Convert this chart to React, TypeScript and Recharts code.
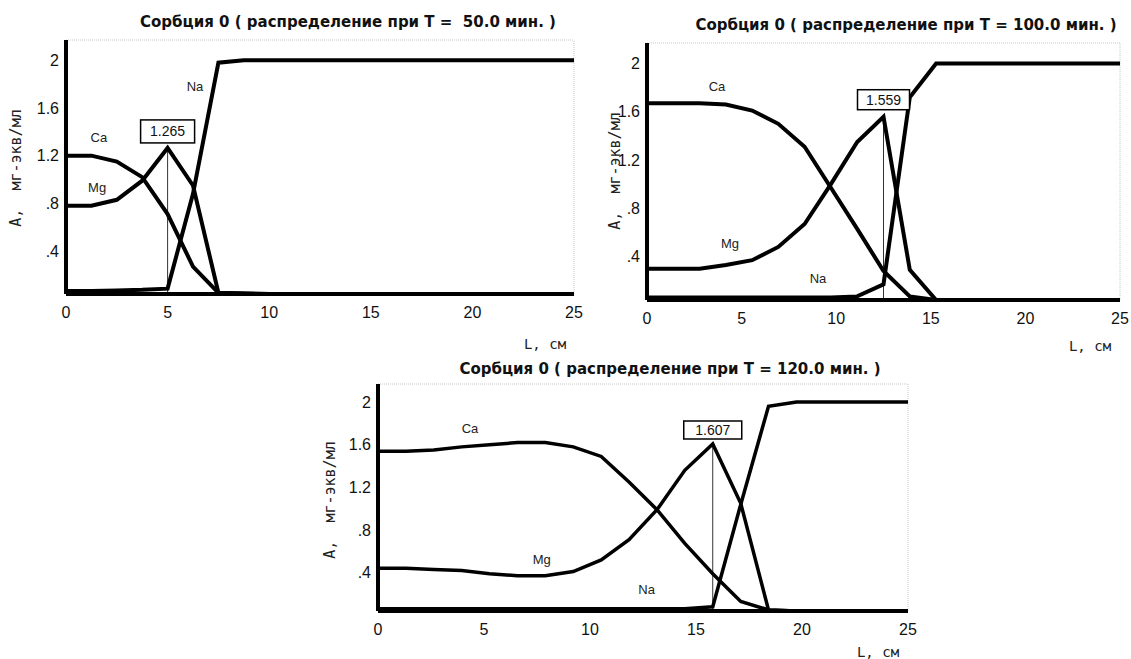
import React from "react";
import { LineChart, Line, XAxis, YAxis, ReferenceLine, ReferenceDot } from "recharts";

// T = 50 мин
const L50 = [0, 1.25, 2.5, 3.75, 5, 6.25, 7.5, 8.75, 10, 11.25, 12.5, 13.75, 15, 16.25, 17.5, 18.75, 20, 21.25, 22.5, 23.75, 25];
const Ca50 = [1.2, 1.2, 1.15, 1.02, 0.71, 0.27, 0.05, 0.045, 0.04, 0.04, 0.04, 0.04, 0.04, 0.04, 0.04, 0.04, 0.04, 0.04, 0.04, 0.04, 0.04];
const Mg50 = [0.78, 0.78, 0.83, 0.99, 1.265, 0.95, 0.05, 0.045, 0.04, 0.04, 0.04, 0.04, 0.04, 0.04, 0.04, 0.04, 0.04, 0.04, 0.04, 0.04, 0.04];
const Na50 = [0.065, 0.065, 0.07, 0.075, 0.085, 0.88, 1.98, 2, 2, 2, 2, 2, 2, 2, 2, 2, 2, 2, 2, 2, 2];

// T = 100 мин
const L100 = [0, 1.39, 2.78, 4.17, 5.56, 6.94, 8.33, 9.72, 11.11, 12.5, 13.89, 15.28, 16.67, 18.06, 19.44, 20.83, 22.22, 23.61, 25];
const Ca100 = [1.67, 1.67, 1.67, 1.66, 1.61, 1.5, 1.31, 0.97, 0.63, 0.28, 0.07, 0.04, 0.04, 0.04, 0.04, 0.04, 0.04, 0.04, 0.04];
const Mg100 = [0.3, 0.3, 0.3, 0.33, 0.37, 0.48, 0.67, 1.0, 1.35, 1.559, 0.29, 0.04, 0.04, 0.04, 0.04, 0.04, 0.04, 0.04, 0.04];
const Na100 = [0.06, 0.06, 0.06, 0.06, 0.06, 0.06, 0.06, 0.06, 0.07, 0.17, 1.72, 2, 2, 2, 2, 2, 2, 2, 2];

// T = 120 мин
const L120 = [0, 1.32, 2.63, 3.95, 5.26, 6.58, 7.89, 9.21, 10.53, 11.84, 13.16, 14.47, 15.79, 17.11, 18.42, 19.74, 21.05, 22.37, 23.68, 25];
const Ca120 = [1.54, 1.54, 1.55, 1.58, 1.6, 1.62, 1.62, 1.58, 1.49, 1.25, 0.99, 0.675, 0.39, 0.13, 0.05, 0.04, 0.04, 0.04, 0.04, 0.04];
const Mg120 = [0.44, 0.44, 0.43, 0.42, 0.39, 0.37, 0.37, 0.41, 0.52, 0.71, 0.99, 1.36, 1.607, 1.05, 0.05, 0.04, 0.04, 0.04, 0.04, 0.04];
const Na120 = [0.06, 0.06, 0.06, 0.06, 0.06, 0.06, 0.06, 0.06, 0.06, 0.06, 0.06, 0.06, 0.08, 1.04, 1.96, 2, 2, 2, 2, 2];

const lTicks = [0, 5, 10, 15, 20, 25];
const aTicks = [0.4, 0.8, 1.2, 1.6, 2];
const aDomain = [0.04, 2.17];

// peak of Mg: [L, A]
const peak50 = [5, 1.265];
const peak100 = [12.5, 1.559];
const peak120 = [15.79, 1.607];

// ion label anchors: [L, A] for Ca, Mg, Na
const tags = ["Ca", "Mg", "Na"];
const tags50 = [[1.62, 1.35], [1.53, 0.93], [6.35, 1.785]];
const tags100 = [[3.7, 1.81], [4.39, 0.51], [9.04, 0.22]];
const tags120 = [[4.34, 1.75], [7.72, 0.525], [12.67, 0.24]];

const titles = [
  "Сорбция 0 ( распределение при Т =  50.0 мин. )",
  "Сорбция 0 ( распределение при Т = 100.0 мин. )",
  "Сорбция 0 ( распределение при Т = 120.0 мин. )",
];

type Row = { L: number; Ca: number; Mg: number; Na: number };
const rows = (L: number[], Ca: number[], Mg: number[], Na: number[]): Row[] =>
  L.map((l, i) => ({ L: l, Ca: Ca[i], Mg: Mg[i], Na: Na[i] }));

const fmtA = (v: number) => (v < 1 ? String(v).replace(/^0/, "") : String(v));

const SANS = "'Liberation Sans', Arial, sans-serif";
const NARROW = "'Liberation Sans Narrow', 'Liberation Sans', Arial, sans-serif";
const MONO = "'DejaVu Sans Mono', monospace";

const peakBox = (value: number, w: number, h: number, gap: number) => (props: any) => {
  const vb = props.viewBox || {};
  const cx = vb.x + (vb.width || 0) / 2;
  const cy = vb.y + (vb.height || 0) / 2;
  return (
    <g>
      <rect x={cx - w / 2} y={cy - gap - h} width={w} height={h} fill="#fff" stroke="#000" strokeWidth={1.5} />
      <text x={cx} y={cy - gap - h / 2} textAnchor="middle" dominantBaseline="central" fontSize={14} fontFamily={SANS} fill="#111">
        {value.toFixed(3)}
      </text>
    </g>
  );
};

function Panel(props: {
  data: Row[];
  peak: number[];
  tagPos: number[][];
  width: number;
  height: number;
  margin: { top: number; right: number; bottom: number; left: number };
  stroke: number;
  box: [number, number, number];
}) {
  const { data, peak, tagPos, width, height, margin, stroke, box } = props;
  return (
    <LineChart width={width} height={height} data={data} margin={margin}>
      <XAxis
        type="number"
        dataKey="L"
        domain={[0, 25]}
        ticks={lTicks}
        allowDataOverflow
        height={30}
        tickLine={false}
        tickMargin={7}
        axisLine={{ stroke: "#000", strokeWidth: 4 }}
        tick={{ fill: "#111", fontSize: 16, fontFamily: SANS }}
      />
      <YAxis
        type="number"
        domain={aDomain}
        ticks={aTicks}
        allowDataOverflow
        width={50}
        tickLine={false}
        tickMargin={1}
        tickFormatter={fmtA}
        axisLine={{ stroke: "#000", strokeWidth: 4 }}
        tick={{ fill: "#111", fontSize: 16, fontFamily: SANS }}
      />
      <ReferenceLine y={aDomain[1]} stroke="#c8c8c8" strokeDasharray="1 1" />
      <ReferenceLine x={25} stroke="#c8c8c8" strokeDasharray="1 1" />
      <ReferenceLine
        segment={[{ x: peak[0], y: aDomain[0] }, { x: peak[0], y: peak[1] }]}
        stroke="#333"
        strokeWidth={1}
      />
      <Line type="linear" dataKey="Ca" stroke="#000" strokeWidth={stroke} dot={false} isAnimationActive={false} />
      <Line type="linear" dataKey="Mg" stroke="#000" strokeWidth={stroke} dot={false} isAnimationActive={false} />
      <Line type="linear" dataKey="Na" stroke="#000" strokeWidth={stroke} dot={false} isAnimationActive={false} />
      {tagPos.map((p, i) => (
        <ReferenceDot
          key={tags[i]}
          x={p[0]}
          y={p[1]}
          r={1}
          fill="none"
          stroke="none"
          label={{ value: tags[i], position: "center", fontSize: 13, fill: "#222", fontFamily: NARROW }}
        />
      ))}
      <ReferenceDot x={peak[0]} y={peak[1]} r={1} fill="none" stroke="none" label={peakBox(peak[1], box[0], box[1], box[2])} />
    </LineChart>
  );
}

function Txt(props: { x: number; y: number; style?: React.CSSProperties; rotate?: boolean; children: React.ReactNode }) {
  return (
    <div
      style={{
        position: "absolute",
        left: props.x,
        top: props.y,
        transform: `translate(-50%, -50%)${props.rotate ? " rotate(-90deg)" : ""}`,
        whiteSpace: "pre",
        lineHeight: 1,
        ...props.style,
      }}
    >
      {props.children}
    </div>
  );
}

const titleStyle: React.CSSProperties = { fontFamily: "'DejaVu Sans', Verdana, sans-serif", fontWeight: "bold", fontSize: 15, color: "#111" };
const axisStyle: React.CSSProperties = { fontFamily: MONO, fontSize: 14, color: "#222" };

export default function App() {
  return (
    <div style={{ position: "fixed", left: 0, top: 0, width: 1131, height: 659, background: "#fff", overflow: "hidden" }}>
      <div style={{ position: "absolute", left: 0, top: 0 }}>
        <Panel
          data={rows(L50, Ca50, Mg50, Na50)}
          peak={peak50}
          tagPos={tags50}
          width={600}
          height={350}
          margin={{ top: 40, right: 26, bottom: 26, left: 16 }}
          stroke={4}
          box={[54, 23, 5]}
        />
      </div>
      <div style={{ position: "absolute", left: 590, top: 0 }}>
        <Panel
          data={rows(L100, Ca100, Mg100, Na100)}
          peak={peak100}
          tagPos={tags100}
          width={541}
          height={350}
          margin={{ top: 43, right: 11, bottom: 20, left: 7 }}
          stroke={4}
          box={[52, 20, 7]}
        />
      </div>
      <div style={{ position: "absolute", left: 320, top: 350 }}>
        <Panel
          data={rows(L120, Ca120, Mg120, Na120)}
          peak={peak120}
          tagPos={tags120}
          width={600}
          height={309}
          margin={{ top: 34, right: 12, bottom: 18, left: 8 }}
          stroke={3.5}
          box={[58, 18, 5]}
        />
      </div>

      <Txt x={348} y={22} style={titleStyle}>{titles[0]}</Txt>
      <Txt x={906} y={25} style={titleStyle}>{titles[1]}</Txt>
      <Txt x={670} y={369} style={titleStyle}>{titles[2]}</Txt>

      <Txt x={16} y={168} rotate style={{ ...axisStyle, fontSize: 15 }}>{"A,  мг-экв/мл"}</Txt>
      <Txt x={615} y={171} rotate style={{ ...axisStyle, fontSize: 15 }}>{"A,  мг-экв/мл"}</Txt>
      <Txt x={330} y={500} rotate style={{ ...axisStyle, fontSize: 15 }}>{"A,  мг-экв/мл"}</Txt>

      <Txt x={545} y={344} style={axisStyle}>{"L, см"}</Txt>
      <Txt x={1090} y={346} style={axisStyle}>{"L, см"}</Txt>
      <Txt x={878} y={652} style={axisStyle}>{"L, см"}</Txt>
    </div>
  );
}
